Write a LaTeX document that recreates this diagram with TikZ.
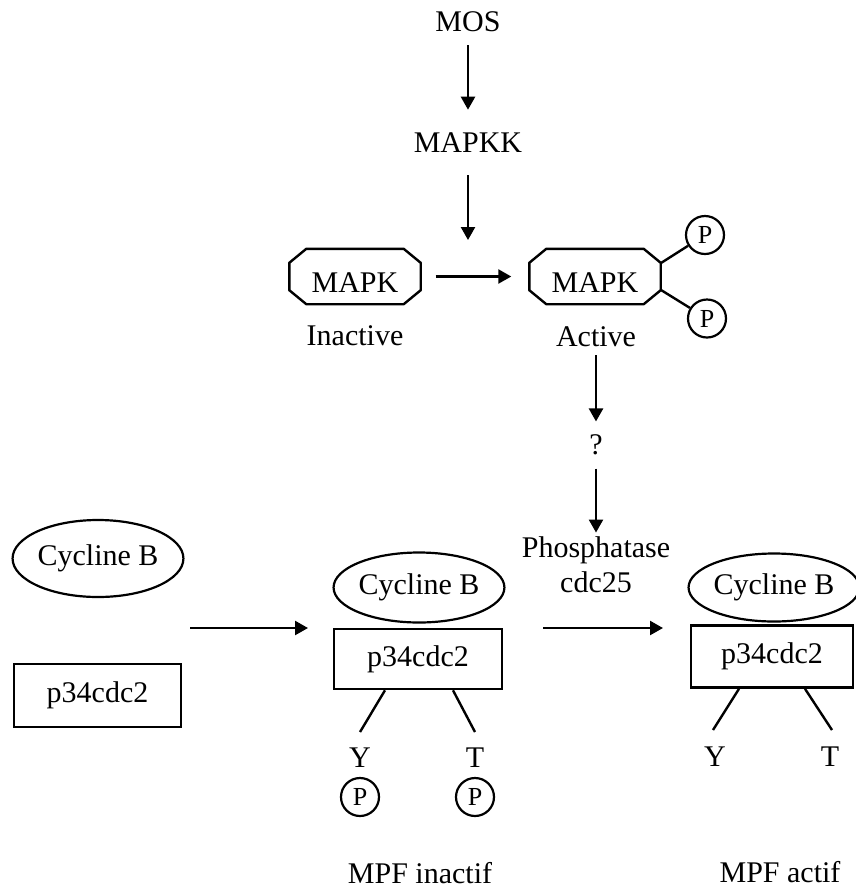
\documentclass[tikz,border=0pt]{standalone}
\usepackage{fontspec}
\setmainfont{Liberation Serif}
\usetikzlibrary{arrows.meta,positioning,calc,shapes.geometric}

\tikzset{
  lbl/.style={inner sep=0pt,font=\fontsize{15}{17.5}\selectfont},
  octbox/.style={lbl,minimum width=65.3pt,minimum height=27.3pt,
    text height=16.3pt,text depth=0pt},
  octline/.style={line width=1.2pt,line join=round},
  cyc/.style={lbl,draw,ellipse,line width=1.1pt},
  kin/.style={lbl,draw,rectangle,line width=1.3pt},
  phos/.style={draw,circle,line width=1.1pt,inner sep=0pt,minimum size=19pt,
    font=\fontsize{13}{14}\selectfont},
  link/.style={line width=1.2pt,-{Triangle[length=6.5pt,width=7pt]}},
  stem/.style={line width=1.2pt}
}

\begin{document}
\begin{tikzpicture}[x=0.5pt,y=-0.5pt]
  \useasboundingbox (0,0) rectangle (856,890);

  % MAPK cascade
  \node[lbl] (mos) at (468,22) {MOS};
  \node[lbl] (mapkk) at (468,143) {MAPKK};
  \coordinate (cat) at (468,240);
  \node[octbox] (inact) at (355,276.5) {MAPK};
  \node[octbox] (act) at (595,276.5) {MAPK};
  \foreach \n in {inact,act}
    \draw[octline] ($(\n.north west)+(8.5pt,0)$) -- ($(\n.north east)+(-8.5pt,0)$)
      -- ($(\n.north east)+(0,-7pt)$) -- ($(\n.south east)+(0,7pt)$)
      -- ($(\n.south east)+(-8.5pt,0)$) -- ($(\n.south west)+(8.5pt,0)$)
      -- ($(\n.south west)+(0,7pt)$) -- ($(\n.north west)+(0,-7pt)$) -- cycle;
  \node[lbl] (inlbl) at (355,336) {Inactive};
  \node[lbl] (aclbl) at (596,337) {Active};
  \node[phos] (pu) at (705,235) {P};
  \node[phos] (pd) at (707,318.5) {P};
  \node[lbl] (qm) at (596,445) {?};
  \node[lbl,align=center] (phosph) at (596,565) {Phosphatase\\cdc25};

  \draw[link,shorten <=6.5pt,shorten >=11.5pt] (mos) -- (mapkk);
  \draw[link,shorten <=11pt] (mapkk) -- (cat);
  \draw[link,shorten <=7.5pt,shorten >=9pt] (inact) -- (act);
  \draw[stem] ($(act.east)+(0,6.65pt)$) -- (pu);
  \draw[stem] ($(act.east)+(0,-6.65pt)$) -- (pd);
  \draw[link,shorten <=4pt,shorten >=6.5pt] (aclbl) -- (qm);
  \draw[link,shorten <=6.5pt,shorten >=2pt] (qm) -- (phosph);

  % free subunits
  \node[cyc,minimum width=84pt,minimum height=38.5pt] (cycL) at (98,558.5) {Cycline B};
  \node[kin,minimum width=83.5pt,minimum height=31.5pt] (boxL) at (97.5,695.5) {p34cdc2};

  % MPF inactif
  \node[cyc,minimum width=83pt,minimum height=35pt] (cycM) at (419,587.5) {Cycline B};
  \node[kin,minimum width=84pt,minimum height=30pt] (boxM) at (418,659) {p34cdc2};
  \node[lbl] (ym) at (360,758) {Y};
  \node[lbl] (tm) at (475,758) {T};
  \node[phos] (pym) at (360,797) {P};
  \node[phos] (ptm) at (475,797) {P};
  \coordinate (ymend) at (360,732);
  \coordinate (tmend) at (475,732);
  \draw[stem] ($(boxM.south)+(-33,0)$) -- (ymend);
  \draw[stem] ($(boxM.south)+(35,0)$) -- (tmend);
  \node[lbl] (mpfin) at (420,873) {MPF inactif};

  % MPF actif
  \node[cyc,minimum width=82pt,minimum height=34pt] (cycR) at (774,587.5) {Cycline B};
  \node[kin,minimum width=81pt,minimum height=31pt] (boxR) at (772,656.5) {p34cdc2};
  \node[lbl] (yr) at (715,757) {Y};
  \node[lbl] (tr) at (830,757) {T};
  \coordinate (yrend) at (713,730);
  \coordinate (trend) at (832,730);
  \draw[stem] ($(boxR.south)+(-33,0)$) -- (yrend);
  \draw[stem] ($(boxR.south)+(33,0)$) -- (trend);
  \node[lbl] (mpfac) at (780,872) {MPF actif};

  % assembly and activation
  \coordinate (asmA) at (190,628);
  \coordinate (asmB) at (308,628);
  \coordinate (actA) at (543,628);
  \coordinate (actB) at (663,628);
  \draw[link] (asmA) -- (asmB);
  \draw[link] (actA) -- (actB);
\end{tikzpicture}
\end{document}
